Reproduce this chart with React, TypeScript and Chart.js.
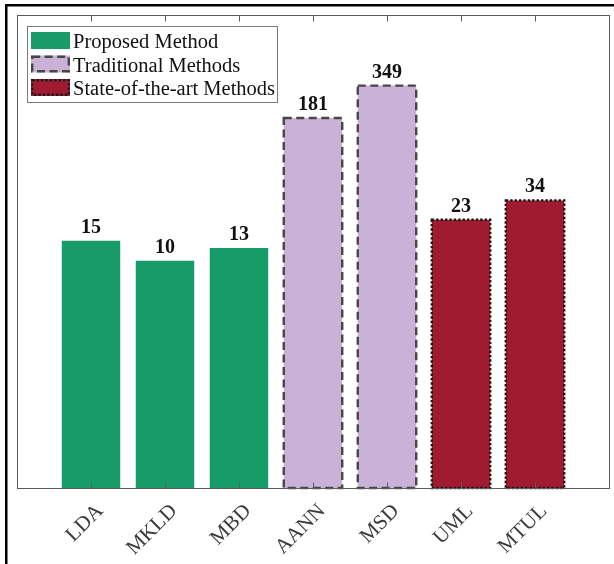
import React, { useEffect, useRef } from "react";
import { Chart, registerables } from "chart.js";

Chart.register(...registerables);

// Method names along the x axis and their measured values (log scale)
const categories = ["LDA", "MKLD", "MBD", "AANN", "MSD", "UML", "MTUL"];
const values = [15, 10, 13, 181, 349, 23, 34];
// Which group each method belongs to (index into the group lists below)
const groups = [0, 0, 0, 1, 1, 2, 2];
const groupNames = ["Proposed Method", "Traditional Methods", "State-of-the-art Methods"];

const groupFills = ["#169b69", "#c9b1d7", "#a11b30"];
const groupEdges: (string | null)[] = [null, "#474747", "#1a1a1a"];
const groupDash: number[][] = [[], [8, 4.5], [2.4, 2]];

const SERIF = "'Liberation Serif', 'Times New Roman', serif";
const AXIS_COLOR = "#5c5c5c";

function strokeEdge(ctx: CanvasRenderingContext2D, g: number, x: number, y: number, w: number, h: number) {
  const edge = groupEdges[g];
  if (!edge) return;
  ctx.save();
  ctx.strokeStyle = edge;
  ctx.lineWidth = 2.4;
  ctx.setLineDash(groupDash[g]);
  ctx.strokeRect(x, y, w, h);
  ctx.restore();
}

const decorPlugin = {
  id: "decor",
  afterDatasetsDraw(chart: any) {
    const ctx: CanvasRenderingContext2D = chart.ctx;
    const area = chart.chartArea;
    const xs = chart.scales.x;
    const meta = chart.getDatasetMeta(0);

    // bar outlines and value labels
    categories.forEach((_, i) => {
      const el = meta.data[i + 1];
      if (!el) return;
      const { x, y, base, width } = el.getProps(["x", "y", "base", "width"], true);
      const g = groups[i];
      strokeEdge(ctx, g, x - width / 2, y, width, base - y);
      ctx.save();
      ctx.fillStyle = "#111";
      ctx.font = `bold 20px ${SERIF}`;
      ctx.textAlign = "center";
      ctx.textBaseline = "alphabetic";
      ctx.fillText(String(values[i]), x, y - 8);
      ctx.restore();
    });

    // axes box with inward ticks
    ctx.save();
    ctx.strokeStyle = AXIS_COLOR;
    ctx.lineWidth = 1;
    const L = Math.round(area.left) + 0.5;
    const R = Math.round(area.right) + 0.5;
    const T = Math.round(area.top) + 0.5;
    const B = Math.round(area.bottom) + 0.5;
    ctx.strokeRect(L, T, R - L, B - T);
    ctx.beginPath();
    categories.forEach((_, i) => {
      const px = Math.round(xs.getPixelForValue(i + 1)) + 0.5;
      ctx.moveTo(px, T);
      ctx.lineTo(px, T + 6);
      ctx.moveTo(px, B);
      ctx.lineTo(px, B - 6);
    });
    ctx.stroke();
    ctx.restore();

    // rotated category labels
    ctx.save();
    ctx.fillStyle = "#3a3a3a";
    ctx.font = `21px ${SERIF}`;
    ctx.textAlign = "right";
    ctx.textBaseline = "middle";
    categories.forEach((c, i) => {
      const px = xs.getPixelForValue(i + 1);
      ctx.save();
      ctx.translate(px + 9, area.bottom + 20);
      ctx.rotate(-Math.PI / 4);
      ctx.fillText(c, 0, 0);
      ctx.restore();
    });
    ctx.restore();

    // legend
    ctx.save();
    const lx = 27.5, ly = 26.5, lw = 250, lh = 76;
    ctx.fillStyle = "#ffffff";
    ctx.fillRect(lx, ly, lw, lh);
    ctx.strokeStyle = "#7a7a7a";
    ctx.lineWidth = 1;
    ctx.strokeRect(lx, ly, lw, lh);
    groupNames.forEach((name, g) => {
      const sy = 32 + g * 23.5;
      ctx.fillStyle = groupFills[g];
      ctx.fillRect(31, sy, 39, 17);
      strokeEdge(ctx, g, 32.2, sy + 1.2, 36.6, 14.6);
      ctx.fillStyle = "#111";
      ctx.font = `20.5px ${SERIF}`;
      ctx.textAlign = "left";
      ctx.textBaseline = "alphabetic";
      ctx.fillText(name, 73, sy + 16);
    });
    ctx.restore();

    // outer frame lines
    ctx.save();
    ctx.fillStyle = "#000";
    ctx.fillRect(5, 4, 2.5, chart.height);
    ctx.fillRect(5, 4, chart.width, 2.5);
    ctx.restore();
  },
};

export default function App() {
  const ref = useRef<HTMLCanvasElement | null>(null);

  useEffect(() => {
    if (!ref.current) return;
    const labels = ["", ...categories, ""];
    const data = [null, ...values, null];
    const fills = ["#fff", ...groups.map((g) => groupFills[g]), "#fff"];
    const chart = new Chart(ref.current, {
      type: "bar",
      data: {
        labels,
        datasets: [
          {
            data: data as any,
            backgroundColor: fills,
            borderWidth: 0,
            barPercentage: 0.79,
            categoryPercentage: 1,
          },
        ],
      },
      options: {
        animation: false,
        responsive: false,
        events: [],
        layout: { padding: { left: 17, top: 15, right: 5, bottom: 76 } },
        plugins: { legend: { display: false }, tooltip: { enabled: false } },
        scales: {
          x: { type: "category", offset: false, display: false },
          y: { type: "logarithmic", min: 0.1, max: 1460, display: false },
        },
      },
      plugins: [decorPlugin],
    });
    return () => chart.destroy();
  }, []);

  return (
    <div style={{ position: "absolute", left: 0, top: 0, width: 614, height: 564, background: "#fff" }}>
      <canvas ref={ref} width={614} height={564} style={{ width: 614, height: 564, display: "block" }} />
    </div>
  );
}
